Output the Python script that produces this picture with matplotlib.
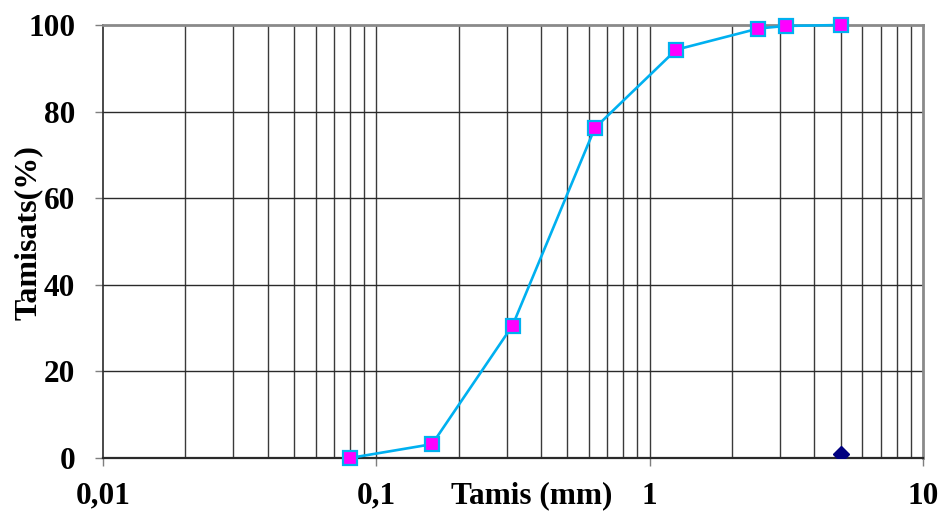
import matplotlib
matplotlib.use("Agg")
import matplotlib.pyplot as plt
from matplotlib.ticker import FixedLocator, NullFormatter
from matplotlib.transforms import offset_copy

# sieve sizes (mm) and cumulative passing (%)
tamis_mm = [0.08, 0.16, 0.315, 0.63, 1.25, 2.5, 3.15, 5.0]
tamisats = [0.0, 3.2, 30.6, 76.2, 94.3, 99.2, 99.8, 100.0]

# single extra point (diamond)
extra_x = [5.0]
extra_y = [1.0]

x_ticks = [0.01, 0.1, 1, 10]
x_labels = ["0,01", "0,1", "1", "10"]
y_ticks = [0, 20, 40, 60, 80, 100]

plt.rcParams["font.family"] = ["Liberation Serif", "DejaVu Serif"]
plt.rcParams["font.weight"] = "bold"

fig = plt.figure(figsize=(9.43, 5.11), dpi=100)
ax = fig.add_axes([0.1092, 0.1037, 0.8696, 0.8473])

ax.set_xscale("log")
ax.set_xlim(0.01, 10)
ax.set_ylim(0, 100)

# vertical grid at every 1..9 subdivision of each decade
minor = [m * 10.0 ** e for e in (-2, -1, 0) for m in range(2, 10)]
for xv in minor + x_ticks[1:-1]:
    ax.axvline(xv, color="#3a3a3a", linewidth=1.0, zorder=1)
for yv in y_ticks[1:-1]:
    ax.axhline(yv, color="#2a2a2a", linewidth=1.0, zorder=1)

ax.plot(tamis_mm, tamisats, color="#00B0F0", linewidth=1.9,
        marker="s", markersize=9.5, markerfacecolor="#FF00FF",
        markeredgecolor="#00B0F0", markeredgewidth=1.6, zorder=3,
        clip_on=False)
ax.plot(extra_x, extra_y, linestyle="none", marker="D", markersize=8.5,
        color="#000080", zorder=4)

ax.xaxis.set_major_locator(FixedLocator(x_ticks))
ax.set_xticklabels(x_labels)
ax.xaxis.set_minor_formatter(NullFormatter())
ax.tick_params(axis="x", which="minor", length=0)
ax.set_yticks(y_ticks)
ax.tick_params(axis="both", which="major", direction="out", length=6,
               width=1.0, color="#7f7f7f", labelsize=22.5)
ax.tick_params(axis="x", pad=11)
ax.tick_params(axis="y", pad=14)

for s in ("top", "right"):
    ax.spines[s].set_color("#8a8a8a")
    ax.spines[s].set_linewidth(2.0)
ax.spines["left"].set_color("#2a2a2a")
ax.spines["left"].set_linewidth(1.2)
ax.spines["bottom"].set_color("#2a2a2a")
ax.spines["bottom"].set_linewidth(1.6)

fig.text(28 / 943, 1 - 233 / 511, "Tamisats(%)", rotation=90, ha="center",
         va="center", fontsize=23, fontweight="bold")
ax.text(0.523, 0, "Tamis (mm)", ha="center", va="top", fontsize=22.5,
        fontweight="bold",
        transform=offset_copy(ax.transAxes, fig, y=-17, units="points"))

fig.savefig("out.png", dpi=100, facecolor="white")
